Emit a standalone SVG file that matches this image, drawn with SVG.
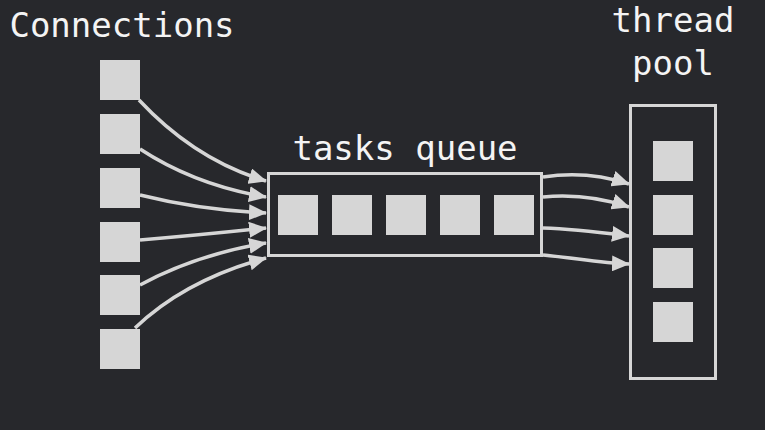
<svg xmlns="http://www.w3.org/2000/svg" width="765" height="430" viewBox="0 0 765 430">
<style>
.sq{fill:#d6d6d6}
.box{fill:none;stroke:#d6d6d6;stroke-width:3}
.lbl{font-family:"DejaVu Sans Mono","Liberation Mono",monospace;font-size:34px;fill:#f4f4f4;text-anchor:middle}
.ln{fill:none;stroke:#d6d6d6;stroke-width:3.5;marker-end:url(#ah)}
</style>
<defs>
<marker id="ah" markerUnits="userSpaceOnUse" markerWidth="18" markerHeight="16" viewBox="0 0 18 16" refX="17" refY="8" orient="auto">
<path d="M0,0 L18,8 L0,16 Z" fill="#d6d6d6"/>
</marker>
</defs>
<rect width="765" height="430" fill="#27282c"/>
<g id="connections">
<text class="lbl" x="122" y="37">Connections</text>
<rect class="sq" x="100" y="60" width="40" height="40"/>
<rect class="sq" x="100" y="114" width="40" height="40"/>
<rect class="sq" x="100" y="168" width="40" height="40"/>
<rect class="sq" x="100" y="222" width="40" height="40"/>
<rect class="sq" x="100" y="275" width="40" height="40"/>
<rect class="sq" x="100" y="329" width="40" height="40"/>
</g>
<g id="tasks-queue">
<text class="lbl" x="405" y="160">tasks queue</text>
<rect class="box" x="268.5" y="173.5" width="273" height="82"/>
<rect class="sq" x="278" y="195" width="40" height="40"/>
<rect class="sq" x="332" y="195" width="40" height="40"/>
<rect class="sq" x="386" y="195" width="40" height="40"/>
<rect class="sq" x="440" y="195" width="40" height="40"/>
<rect class="sq" x="494" y="195" width="40" height="40"/>
</g>
<g id="thread-pool">
<text class="lbl" x="673" y="32">thread</text>
<text class="lbl" x="673" y="75">pool</text>
<rect class="box" x="630.5" y="105.5" width="85" height="273"/>
<rect class="sq" x="653" y="141" width="40" height="40"/>
<rect class="sq" x="653" y="195" width="40" height="40"/>
<rect class="sq" x="653" y="248" width="40" height="40"/>
<rect class="sq" x="653" y="302" width="40" height="40"/>
</g>
<g id="connectors">
<path class="ln" d="M139,100 Q195,160 266,181"/>
<path class="ln" d="M140,149 Q195,185 266,197"/>
<path class="ln" d="M140,195 Q200,210 266,213"/>
<path class="ln" d="M140,240 Q200,235 266,228"/>
<path class="ln" d="M140,285 Q195,255 266,243"/>
<path class="ln" d="M135,328 Q185,280 266,258"/>
<path class="ln" d="M543,177 C575,172 605,176 629,184"/>
<path class="ln" d="M543,197 C575,194 605,199 629,207"/>
<path class="ln" d="M543,228 C575,229 605,233 629,236"/>
<path class="ln" d="M543,255 C575,258 600,263 629,264"/>
</g>
</svg>
